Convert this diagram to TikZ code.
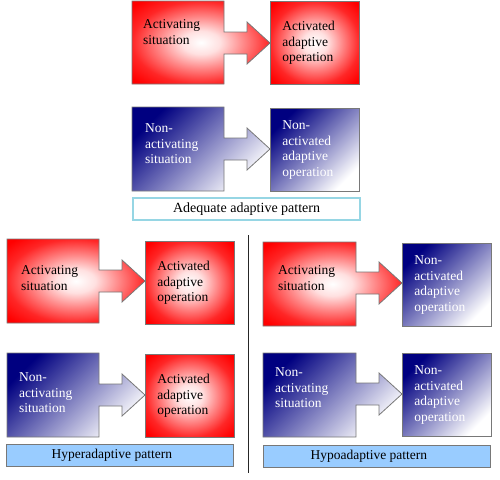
\documentclass[tikz,border=0pt]{standalone}
\usepackage{fontspec}
\setmainfont{Liberation Serif}
\usetikzlibrary{positioning}

\definecolor{navy}{RGB}{0,0,128}
\definecolor{edgegray}{RGB}{120,120,120}
\definecolor{labcyan}{RGB}{150,214,228}
\definecolor{labblue}{RGB}{153,204,255}

\pgfdeclareradialshading{redglow}{\pgfpointorigin}{color(0bp)=(white); color(7bp)=(red!12);
  color(15bp)=(red!45); color(25bp)=(red!85); color(33bp)=(red); color(50bp)=(red)}

% box with an arrow on its right side: style, left, top, right, bottom, arrow centre
\newcommand\callout[6]{%
  \path[#1] (#2,#3) -- (#4,#3) -- (#4,#6-11) -- (#4+23,#6-11) -- (#4+23,#6-21)
    -- (#4+46,#6) -- (#4+23,#6+21) -- (#4+23,#6+11) -- (#4,#6+11)
    -- (#4,#5) -- (#2,#5) -- cycle;}

\begin{document}
\begin{tikzpicture}[x=1pt,y=-1pt,
  txt/.style={font=\fontsize{13.5}{15.7}\selectfont},
  redfill/.style={draw=edgegray, line width=0.8pt, shade, shading=redglow},
  bluefill/.style={draw=edgegray, line width=0.8pt, top color=navy, bottom color=white, shading angle=45},
  sit/.style={txt, align=left, anchor=north west, inner sep=0pt},
  op/.style={txt, align=left, text width=65pt, inner xsep=12pt, inner ysep=0pt,
    minimum height=83pt, anchor=north west},
  patternbox/.style={txt, anchor=north west, minimum width=227pt, minimum height=22pt, inner sep=0pt}]

  \useasboundingbox (0,0) rectangle (500,479);

  % adequate adaptive pattern
  \callout{redfill}{132}{1}{224}{84}{43}
  \node[sit] (s1) at (143,19.5) {Activating\\situation};
  \node[op, redfill] (o1) at (270,1) {Activated\\adaptive\\operation};

  \callout{bluefill}{132}{107}{224}{191}{149}
  \node[sit, text=white] (s2) at (145,123.5) {Non-\\activating\\situation};
  \node[op, bluefill, text=white] (o2) at (270,108) {Non-\\activated\\adaptive\\operation};

  \node[patternbox, draw=labcyan, line width=2.2pt, fill=white,
    font=\fontsize{14}{16}\selectfont] (adequate) at (132,197) {Adequate adaptive pattern};

  % hyperadaptive pattern
  \callout{redfill}{7}{239}{99}{323}{281}
  \node[sit] (s3) at (21,265.5) {Activating\\situation};
  \node[op, redfill] (o3) at (145,241) {Activated\\adaptive\\operation};

  \callout{bluefill}{7}{353}{99}{437}{395}
  \node[sit, text=white] (s4) at (19,372.5) {Non-\\activating\\situation};
  \node[op, redfill] (o4) at (145,354) {Activated\\adaptive\\operation};

  \node[patternbox, draw=edgegray, line width=0.8pt, fill=labblue,
    label={[txt, xshift=-8pt]center:Hyperadaptive pattern}] (hyper) at (6,444) {};

  % separator
  \draw[line width=1.2pt, black!85] (248.5,235) -- (248.5,473);

  % hypoadaptive pattern
  \callout{redfill}{263}{242}{356}{326}{283}
  \node[sit] (s5) at (278,265.5) {Activating\\situation};
  \node[op, bluefill, text=white] (o5) at (402,243) {Non-\\activated\\adaptive\\operation};

  \callout{bluefill}{263}{353}{356}{437}{394}
  \node[sit, text=white] (s6) at (275,367.5) {Non-\\activating\\situation};
  \node[op, bluefill, text=white] (o6) at (402,353) {Non-\\activated\\adaptive\\operation};

  \node[patternbox, draw=edgegray, line width=0.8pt, fill=labblue,
    label={[txt, xshift=-8pt]center:Hypoadaptive pattern}] (hypo) at (263,445) {};
\end{tikzpicture}
\end{document}
